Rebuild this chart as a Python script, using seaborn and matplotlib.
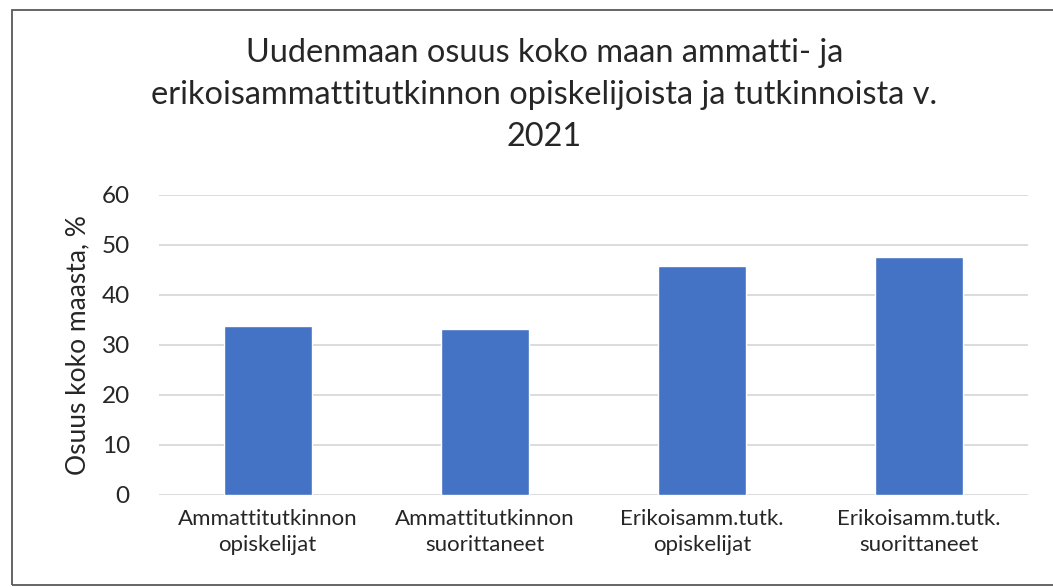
import matplotlib
matplotlib.use("Agg")
import matplotlib.pyplot as plt
import seaborn as sns
import pandas as pd
from matplotlib.patches import Rectangle

# Data
categories = ["Ammattitutkinnon\nopiskelijat", "Ammattitutkinnon\nsuorittaneet",
              "Erikoisamm.tutk.\nopiskelijat", "Erikoisamm.tutk.\nsuorittaneet"]
shares = [33.7, 33.1, 45.7, 47.6]
y_ticks = [0, 10, 20, 30, 40, 50, 60]

df = pd.DataFrame({"Kategoria": categories, "Osuus": shares})

sns.set_theme(style="white")
plt.rcParams['font.family'] = ['Lato', 'DejaVu Sans']

fig = plt.figure(figsize=(10.53, 5.87), dpi=100)
ax = fig.add_axes([0.151, 0.157, 0.825, 0.511])

sns.barplot(x="Kategoria", y="Osuus", data=df, color="#4472C4", width=0.405,
            saturation=1, ax=ax, zorder=3)

ax.set_ylim(0, 60)
ax.set_yticks(y_ticks)
ax.set_yticklabels([str(t) for t in y_ticks], fontsize=17.5)
ax.set_xticks(range(len(categories)))
ax.set_xticklabels(categories, fontsize=16, linespacing=1.4)
ax.tick_params(axis='x', pad=10, length=0)
ax.tick_params(axis='y', pad=21, length=0)
ax.yaxis.grid(True, color="#d9d9d9", linewidth=1.3, zorder=0)
ax.set_axisbelow(True)
for s in ax.spines.values():
    s.set_visible(False)
ax.set_xlabel("")
ax.set_ylabel("Osuus koko maasta, %", fontsize=19, labelpad=8)

fig.text(0.517, 0.838,
         "Uudenmaan osuus koko maan ammatti- ja\n"
         "erikoisammattitutkinnon opiskelijoista ja tutkinnoista v.\n2021",
         ha="center", va="center", fontsize=23.4, linespacing=1.5)

# Chart border
fig.patches.append(Rectangle((12 / 1053, 2 / 587), 1.2, 575 / 587, transform=fig.transFigure,
                             fill=False, edgecolor="#595959", linewidth=1.3))

fig.savefig("out.png", dpi=100)
